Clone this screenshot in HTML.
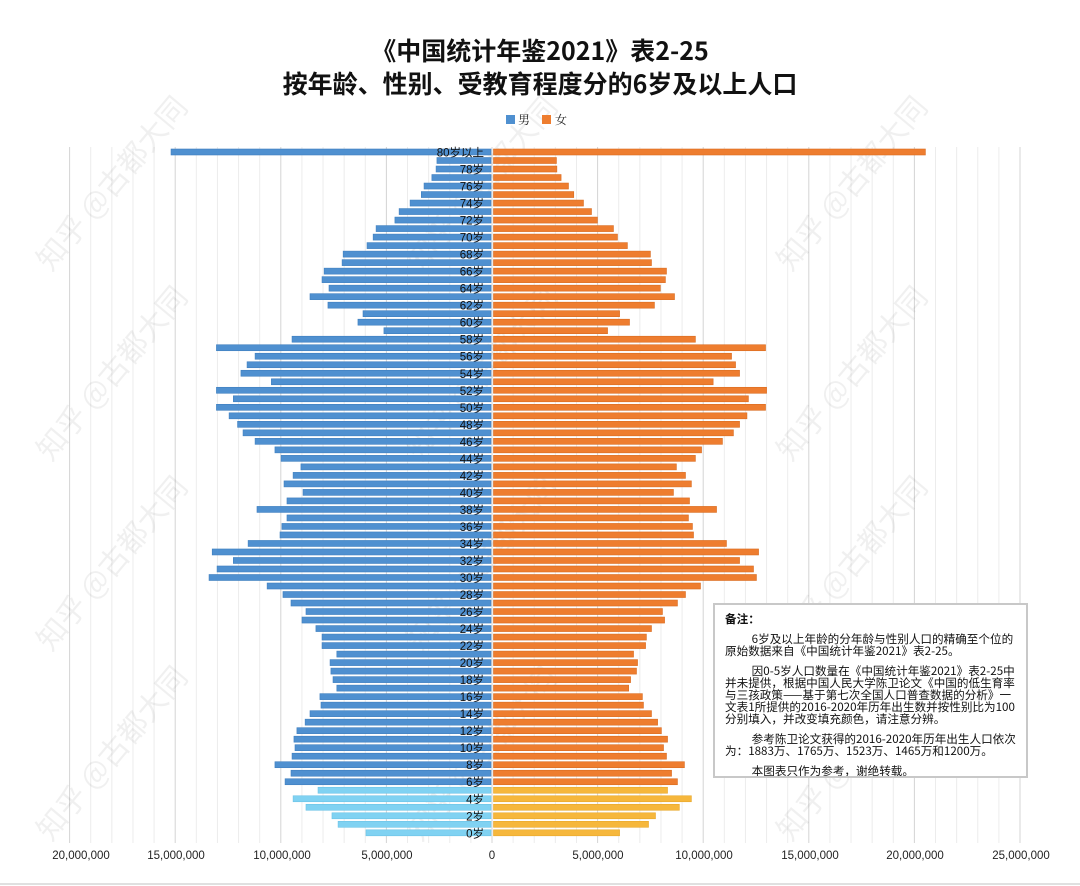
<!DOCTYPE html>
<html><head><meta charset="utf-8"><style>
html,body{margin:0;padding:0;background:#fff}
body{width:1080px;height:886px;overflow:hidden;position:relative;font-family:"Liberation Sans","Noto Sans CJK SC",sans-serif}
.t{position:absolute;left:0;width:1080px;text-align:center;font-weight:bold;font-size:25px;color:#111;font-family:"Noto Sans CJK SC","WenQuanYi Zen Hei",sans-serif;line-height:32px}
#note{position:absolute;left:713px;top:603px;width:315px;height:175px;border:2px solid #c8c8c8;background:#fff;font-size:11.6px;line-height:12px;color:#111;font-family:"WenQuanYi Zen Hei","Noto Sans CJK SC",sans-serif;padding:8px 6px 0 10px;box-sizing:border-box;overflow:hidden}
#note p{margin:0 0 8px 0;text-indent:2.3em}
</style></head><body>
<div class="t" style="top:34px">《中国统计年鉴2021》表2-25</div>
<div class="t" style="top:67px">按年龄、性别、受教育程度分的6岁及以上人口</div>
<svg id="s" width="1080" height="886" style="position:absolute;left:0;top:0"></svg>
<div id="note"><div style="font-weight:bold;margin-bottom:8px">备注：</div>
<p>6岁及以上年龄的分年龄与性别人口的精确至个位的原始数据来自《中国统计年鉴2021》表2-25。</p>
<p>因0-5岁人口数量在《中国统计年鉴2021》表2-25中并未提供，根据中国人民大学陈卫论文《中国的低生育率与三孩政策——基于第七次全国人口普查数据的分析》一文表1所提供的2016-2020年历年出生数并按性别比为100分别填入，并改变填充颜色，请注意分辨。</p>
<p>参考陈卫论文获得的2016-2020年历年出生人口依次为：1883万、1765万、1523万、1465万和1200万。</p>
<p>本图表只作为参考，谢绝转载。</p></div>
<script>
var M=[15.15,2.56,2.6,2.8,3.17,3.3,3.83,4.35,4.55,5.44,5.58,5.87,7.0,7.05,7.9,8.0,7.67,8.57,7.72,6.06,6.3,5.07,9.42,13.0,11.17,11.55,11.84,10.4,13.0,12.2,13.0,12.4,12.0,11.74,11.17,10.23,9.94,9.0,9.37,9.8,8.9,9.66,11.08,9.66,9.9,9.99,11.5,13.2,12.2,12.97,13.35,10.6,9.85,9.47,8.76,8.95,8.29,8.0,8.0,7.3,7.62,7.58,7.48,7.3,8.1,8.05,8.57,8.8,9.19,9.33,9.28,9.42,10.23,9.47,9.75,8.19,9.37,8.76,7.53,7.24,5.92];
var F=[20.45,2.98,3.0,3.2,3.55,3.8,4.26,4.64,4.92,5.68,5.87,6.34,7.43,7.48,8.19,8.14,7.9,8.57,7.62,5.97,6.44,5.4,9.56,12.88,11.27,11.46,11.65,10.4,12.93,12.07,12.88,12.0,11.65,11.36,10.84,9.85,9.56,8.66,9.09,9.37,8.52,9.28,10.56,9.23,9.42,9.47,11.03,12.55,11.65,12.31,12.45,9.8,9.09,8.71,8.0,8.1,7.48,7.24,7.2,6.63,6.82,6.77,6.49,6.4,7.05,7.1,7.48,7.77,7.95,8.24,8.05,8.19,9.04,8.43,8.71,8.24,9.37,8.8,7.67,7.34,5.97];
var X0=492,K=21.12,h='';
for(var v=-20;v<=25;v++){var x=X0+v*K;h+='<line x1="'+x+'" y1="147" x2="'+x+'" y2="843" stroke="'+(v%5==0?'#d4d4d4':'#ececec')+'" stroke-width="1"/>';}
for(var w=0;w<3;w++)for(var r=0;r<4;r++){var wx=120+w*370,wy=190+r*190;h+='<text x="'+wx+'" y="'+wy+'" transform="rotate(-50 '+wx+' '+wy+')" font-size="30" fill="#000" fill-opacity="0.06" font-family="Noto Sans CJK SC,sans-serif" text-anchor="middle">知乎 @古都大同</text>';}
for(var i=0;i<81;i++){var y=152+i*8.51;var age=80-i;var young=age<=5;
var mw=M[i]*K,fw=F[i]*K;
h+='<rect x="'+(X0-1-mw)+'" y="'+(y-3)+'" width="'+mw+'" height="6" fill="'+(young?'#80d2f2':'#4f90d0')+'" stroke="'+(young?'#6cc3e6':'#3f7fbf')+'" stroke-width="0.6"/>';
h+='<rect x="'+(X0+1.5)+'" y="'+(y-3)+'" width="'+fw+'" height="6" fill="'+(young?'#f6b73c':'#ee7d2f')+'" stroke="'+(young?'#e8a82c':'#d96c20')+'" stroke-width="0.6"/>';
if(age%2==0){h+='<text x="484" y="'+(y+4.5)+'" text-anchor="end" font-size="11.5" fill="#111" font-family="Liberation Sans,Noto Sans CJK SC,sans-serif">'+(age==80?'80岁以上':age+'岁')+'</text>';}}
var L=[['20,000,000',81],['15,000,000',176],['10,000,000',282],['5,000,000',387],['0',492],['5,000,000',598],['10,000,000',704],['15,000,000',810],['20,000,000',915],['25,000,000',1021]];
L.forEach(function(l){h+='<text x="'+l[1]+'" y="859" text-anchor="middle" font-size="11.5" fill="#222" font-family="Liberation Sans,sans-serif">'+l[0]+'</text>';});
h+='<rect x="506" y="115" width="9" height="9" fill="#4f90d0"/><text x="518" y="124" font-size="12" fill="#222" font-family="Noto Serif CJK SC,serif">男</text>';
h+='<rect x="542" y="115" width="9" height="9" fill="#ee7d2f"/><text x="555" y="124" font-size="12" fill="#222" font-family="Noto Serif CJK SC,serif">女</text>';
h+='<line x1="0" y1="884" x2="1080" y2="884" stroke="#e0e0e0" stroke-width="2"/>';
document.getElementById('s').innerHTML=h;
</script>
</body></html>
